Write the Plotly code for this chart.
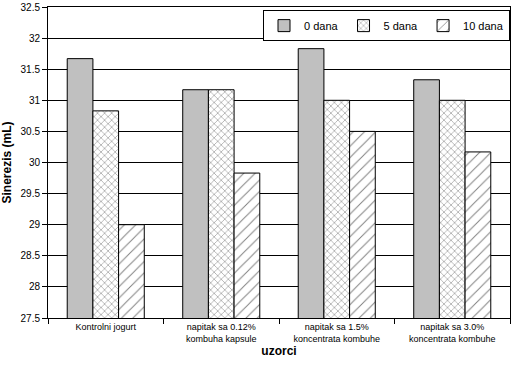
import plotly.graph_objects as go

categories = ["Kontrolni jogurt", "napitak sa 0.12%<br>kombuha kapsule",
              "napitak sa 1.5%<br>koncentrata kombuhe", "napitak sa 3.0%<br>koncentrata kombuhe"]
dana0 = [31.67, 31.17, 31.83, 31.33]
dana5 = [30.83, 31.17, 31.0, 31.0]
dana10 = [29.0, 29.83, 30.5, 30.17]
series_names = ["0 dana", "5 dana", "10 dana"]

font = "Liberation Sans, Arial, sans-serif"

fig = go.Figure()
fig.add_trace(go.Bar(x=categories, y=dana0, name=series_names[0],
                     marker=dict(color="#C0C0C0", line=dict(color="black", width=1))))
fig.add_trace(go.Bar(x=categories, y=dana5, name=series_names[1],
                     marker=dict(color="white", line=dict(color="black", width=1),
                                 pattern=dict(shape="x", size=5, solidity=0.2,
                                              fgcolor="black", bgcolor="white"))))
fig.add_trace(go.Bar(x=categories, y=dana10, name=series_names[2],
                     marker=dict(color="white", line=dict(color="black", width=1),
                                 pattern=dict(shape="/", size=8, solidity=0.12,
                                              fgcolor="black", bgcolor="white"))))

fig.update_layout(
    width=518, height=370,
    margin=dict(l=48, r=8, t=7, b=52, autoexpand=False),
    paper_bgcolor="white", plot_bgcolor="white",
    barmode="group", bargap=0.333, bargroupgap=0,
    font=dict(family=font, color="black", size=10),
    showlegend=True,
    legend=dict(orientation="h", x=1.0, y=0.99, xanchor="right", yanchor="top",
                bgcolor="white", bordercolor="black", borderwidth=1,
                font=dict(size=11, family=font),
                itemwidth=30, traceorder="normal", tracegroupgap=0),
    xaxis=dict(
        title=dict(text="<b>uzorci</b>", font=dict(size=12, family=font), standoff=4),
        tickson="boundaries", ticks="outside", ticklen=5, tickcolor="black",
        showline=True, linecolor="black", linewidth=1, mirror=True,
        tickfont=dict(size=9, family=font), automargin=False,
    ),
    yaxis=dict(
        title=dict(text="<b>Sinerezis (mL)</b>", font=dict(size=12, family=font), standoff=12),
        range=[27.5, 32.5], dtick=0.5, tick0=27.5,
        ticks="outside", ticklen=5, tickcolor="black",
        showgrid=True, gridcolor="black", gridwidth=1,
        showline=True, linecolor="black", linewidth=1, mirror=True,
        tickfont=dict(size=10, family=font), zeroline=False, automargin=False,
    ),
)

fig.write_html("out.html", config={"displayModeBar": False},
               post_script="document.body.style.margin='0';")
